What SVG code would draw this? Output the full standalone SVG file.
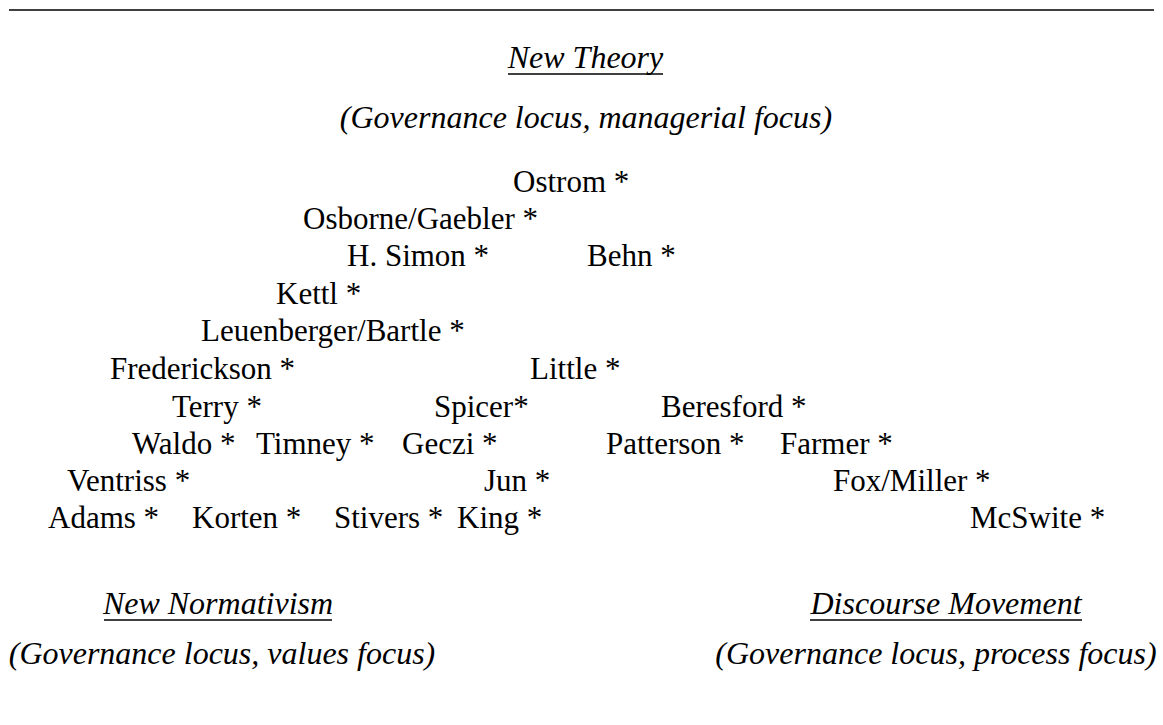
<svg xmlns="http://www.w3.org/2000/svg" width="1163" height="725" viewBox="0 0 1163 725">
<style>
.n{font-family:"Liberation Serif","Times New Roman",serif;font-size:31px;fill:#000}
.h{font-family:"Liberation Serif","Times New Roman",serif;font-size:32px;font-style:italic;fill:#000;text-anchor:middle}
.u{stroke:#000;stroke-width:1.6}
</style>
<rect width="1163" height="725" fill="#fff"/>
<line x1="9" y1="10" x2="1154" y2="10" stroke="#000" stroke-width="1.5"/>
<g id="new-theory">
<text class="h" x="585.5" y="68">New Theory</text>
<line class="u" x1="508" y1="74" x2="663" y2="74"/>
<text class="h" x="586" y="128">(Governance locus, managerial focus)</text>
</g>
<g id="names">
<text class="n" x="513" y="192">Ostrom *</text>
<text class="n" x="303" y="229">Osborne/Gaebler *</text>
<text class="n" x="347" y="266">H. Simon *</text>
<text class="n" x="587" y="266">Behn *</text>
<text class="n" x="276" y="304">Kettl *</text>
<text class="n" x="201" y="341">Leuenberger/Bartle *</text>
<text class="n" x="110" y="379">Frederickson *</text>
<text class="n" x="530" y="379">Little *</text>
<text class="n" x="172" y="417">Terry *</text>
<text class="n" x="434" y="417">Spicer*</text>
<text class="n" x="661" y="417">Beresford *</text>
<text class="n" x="132" y="454">Waldo *</text>
<text class="n" x="256" y="454">Timney *</text>
<text class="n" x="402" y="454">Geczi *</text>
<text class="n" x="606" y="454">Patterson *</text>
<text class="n" x="780" y="454">Farmer *</text>
<text class="n" x="67" y="491">Ventriss *</text>
<text class="n" x="484" y="491">Jun *</text>
<text class="n" x="833" y="491">Fox/Miller *</text>
<text class="n" x="48" y="528">Adams *</text>
<text class="n" x="192" y="528">Korten *</text>
<text class="n" x="334" y="528">Stivers *</text>
<text class="n" x="457" y="528">King *</text>
<text class="n" x="970" y="528">McSwite *</text>
</g>
<g id="new-normativism">
<text class="h" x="218" y="614">New Normativism</text>
<line class="u" x1="104" y1="620" x2="332" y2="620"/>
<text class="h" x="222" y="664">(Governance locus, values focus)</text>
</g>
<g id="discourse-movement">
<text class="h" x="946" y="614">Discourse Movement</text>
<line class="u" x1="810" y1="620" x2="1082" y2="620"/>
<text class="h" x="936" y="664">(Governance locus, process focus)</text>
</g>
<g id="connectors"/>
</svg>
